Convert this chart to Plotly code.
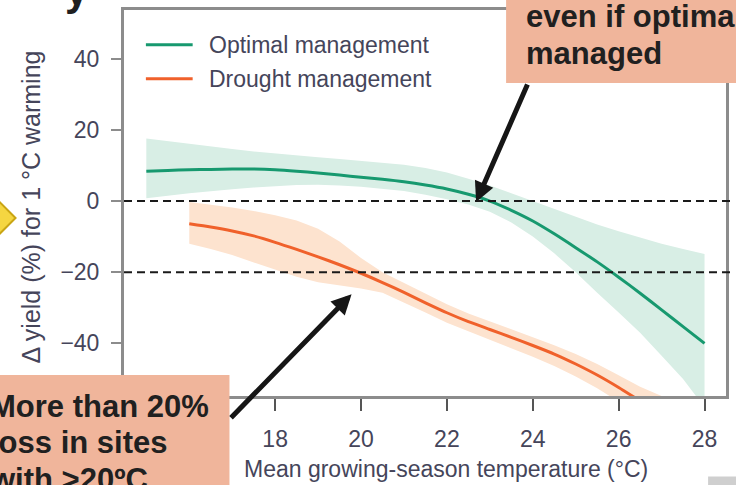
import plotly.graph_objects as go

# ---------------- data ----------------
opt_temp = [15.0, 15.5, 16.0, 16.5, 17.0, 17.5, 18.0, 18.5, 19.0, 19.5, 20.0, 20.5, 21.0,
            21.5, 22.0, 22.5, 23.0, 23.5, 24.0, 24.5, 25.0, 25.5, 26.0, 26.5, 27.0, 27.5, 28.0]
opt_mean = [8.4, 8.6, 8.8, 8.9, 9.0, 9.0, 8.8, 8.4, 7.9, 7.3, 6.7, 6.1, 5.4,
            4.5, 3.4, 1.9, 0.0, -2.6, -5.6, -9.2, -13.1, -17.1, -21.4, -25.9, -30.6, -35.3, -40.0]
opt_upper = [17.6, 16.8, 16.0, 15.3, 14.6, 13.9, 13.3, 12.8, 12.3, 11.8, 11.3, 10.8, 10.2,
             9.3, 8.0, 6.3, 4.4, 2.2, 0.0, -2.3, -4.5, -6.6, -8.5, -10.3, -12.0, -13.5, -14.9]
opt_lower = [0.8, 1.5, 2.2, 2.8, 3.3, 3.8, 4.2, 4.5, 4.6, 4.4, 4.0, 3.5, 2.8,
             1.8, 0.5, -1.0, -3.0, -6.0, -10.0, -14.7, -20.0, -25.8, -31.3, -37.0, -43.5, -50.0, -58.0]

dro_temp = [16.0, 16.5, 17.0, 17.5, 18.0, 18.5, 19.0, 19.5, 20.0, 20.5, 21.0, 21.5,
            22.0, 22.5, 23.0, 23.5, 24.0, 24.5, 25.0, 25.5, 26.0, 26.5, 27.0, 27.5]
dro_mean = [-6.4, -7.3, -8.4, -9.8, -11.6, -13.6, -15.7, -17.9, -20.3, -22.9, -25.7, -28.6,
            -31.4, -33.9, -36.1, -38.3, -40.6, -43.0, -45.8, -48.9, -52.4, -56.2]
dro_upper = [-0.3, -1.0, -1.8, -2.8, -4.0, -5.5, -7.8, -11.4, -16.0, -20.0, -23.0, -26.0,
             -29.0, -31.6, -33.8, -36.0, -38.2, -40.5, -43.0, -45.8, -49.0, -52.2, -54.8, -57.0]
dro_lower = [-12.0, -13.5, -15.2, -17.1, -19.3, -21.3, -22.8, -23.8, -24.6, -25.8, -28.5, -31.3,
             -34.2, -36.7, -39.0, -41.4, -43.8, -46.4, -49.3, -52.6, -56.4, -60.0, -62.0, -64.0]

ref_levels = [0, -20]
series_names = ["Optimal management", "Drought management"]
x_ticks = [16, 18, 20, 22, 24, 26, 28]
y_ticks = [-40, -20, 0, 20, 40]

# ---------------- style ----------------
GREEN = "#17996f"
ORANGE = "#f0612b"
GREEN_BAND = "#d8eee5"
ORANGE_BAND = "#fde3cf"
BOX = "#f0b59b"
FONT = "Liberation Sans"
TXT = "#45455a"

W, H = 736, 485
L, R, T, B = 124, 7, 8, 89
PW, PH = W - L - R, H - T - B


def px(x):
    return (x - L) / PW


def py(y):
    return (H - B - y) / PH


fig = go.Figure()

fig.add_trace(go.Scatter(x=opt_temp + opt_temp[::-1], y=opt_upper + opt_lower[::-1],
                         fill="toself", fillcolor=GREEN_BAND, line=dict(width=0),
                         mode="lines", hoverinfo="skip", showlegend=False))
fig.add_trace(go.Scatter(x=dro_temp + dro_temp[::-1], y=dro_upper + dro_lower[::-1],
                         fill="toself", fillcolor=ORANGE_BAND, line=dict(width=0),
                         mode="lines", hoverinfo="skip", showlegend=False))
fig.add_trace(go.Scatter(x=opt_temp, y=opt_mean, mode="lines", name=series_names[0],
                         line=dict(color=GREEN, width=3, shape="spline", smoothing=0.6),
                         showlegend=False))
fig.add_trace(go.Scatter(x=dro_temp[:len(dro_mean)], y=dro_mean, mode="lines",
                         name=series_names[1],
                         line=dict(color=ORANGE, width=3, shape="spline", smoothing=0.6),
                         showlegend=False))

shapes = []
for v in ref_levels:
    shapes.append(dict(type="line", xref="paper", yref="y", x0=0, x1=px(737), y0=v, y1=v,
                       line=dict(color="#1a1a1a", width=2, dash="8px,5px"), layer="above"))

# manual legend
for i, (nm, col) in enumerate(zip(series_names, [GREEN, ORANGE])):
    yy = 43 + 34 * i
    shapes.append(dict(type="line", xref="paper", yref="paper", x0=px(146), x1=px(193),
                       y0=py(yy), y1=py(yy), line=dict(color=col, width=3)))

# slide boxes
shapes.append(dict(type="rect", xref="paper", yref="paper", x0=px(508), x1=px(745),
                   y0=py(81.5), y1=py(-10), fillcolor=BOX, line=dict(width=0), layer="above"))
shapes.append(dict(type="rect", xref="paper", yref="paper", x0=px(-10), x1=px(230),
                   y0=py(495), y1=py(375), fillcolor=BOX, line=dict(width=0), layer="above"))
# yellow diamond at left edge
d = [(15, 217), (-5, 197), (-25, 217), (-5, 237)]
path = "M " + " L ".join(f"{px(a):.5f},{py(b):.5f}" for a, b in d) + " Z"
shapes.append(dict(type="path", xref="paper", yref="paper", path=path,
                   fillcolor="#f5d641", line=dict(color="#c9a514", width=2), layer="above"))
# small grey element bottom right
shapes.append(dict(type="rect", xref="paper", yref="paper", x0=px(711), x1=px(745),
                   y0=py(495), y1=py(477), fillcolor="#cfcfcf", line=dict(width=0), layer="above"))

ann = []
for i, nm in enumerate(series_names):
    ann.append(dict(xref="paper", yref="paper", x=px(207), y=py(43 + 34 * i), text=nm,
                    xanchor="left", yanchor="middle", showarrow=False,
                    font=dict(family=FONT, size=23, color=TXT)))

ann.append(dict(xref="paper", yref="paper", x=px(31), y=py(206),
                text="Δ yield (%) for 1 °C warming", textangle=-90, showarrow=False,
                xanchor="center", yanchor="middle",
                font=dict(family=FONT, size=25, color=TXT)))
ann.append(dict(xref="paper", yref="paper", x=px(448), y=py(469),
                text="Mean growing-season temperature (°C)", showarrow=False,
                xanchor="center", yanchor="middle",
                font=dict(family=FONT, size=23, color=TXT)))

BF = dict(family=FONT, size=31, color="#202020")
for txt, xx, yy in [("even if optimally", 526, 15), ("managed", 526, 51.5),
                    ("More than 20%", -13, 407), ("loss in sites", -13, 443),
                    ("with >20ºC", -13, 480)]:
    ann.append(dict(xref="paper", yref="paper", x=px(xx), y=py(yy), text=f"<b>{txt}</b>",
                    xanchor="left", yanchor="middle", showarrow=False, font=BF))

# title fragment at top
ann.append(dict(xref="paper", yref="paper", x=px(77), y=py(-12), text="<b>y</b>",
                xanchor="center", yanchor="middle", showarrow=False,
                font=dict(family=FONT, size=42, color="#202020")))

# arrows
ann.append(dict(x=22.68, y=-0.3, xref="x", yref="y", text="", showarrow=True,
                ax=52, ay=-119, arrowhead=2, arrowsize=0.8, arrowwidth=5, arrowcolor="#161616"))
ann.append(dict(x=19.78, y=-26.2, xref="x", yref="y", text="", showarrow=True,
                ax=-122, ay=125, arrowhead=2, arrowsize=0.8, arrowwidth=5, arrowcolor="#161616"))

fig.update_layout(
    width=W, height=H, margin=dict(l=L, r=R, t=T, b=B),
    paper_bgcolor="white", plot_bgcolor="white",
    shapes=shapes, annotations=ann, showlegend=False,
    xaxis=dict(range=[14.48, 28.5], tickvals=x_ticks, showgrid=False, zeroline=False,
               showline=True, mirror=True, linecolor="#8c8c8c", linewidth=3,
               ticks="outside", ticklen=12, tickwidth=2, tickcolor="#555555",
               ticklabelstandoff=8, tickfont=dict(family=FONT, size=23, color=TXT)),
    yaxis=dict(range=[-54.8, 53.7], tickvals=y_ticks, showgrid=False, zeroline=False,
               showline=True, mirror=True, linecolor="#8c8c8c", linewidth=3,
               ticks="outside", ticklen=10, tickwidth=2, tickcolor="#8c8c8c",
               ticklabelstandoff=7, tickfont=dict(family=FONT, size=23, color=TXT)),
)

fig.write_html("out.html",
               config={"displayModeBar": False},
               post_script="document.body.style.margin='0';"
                           "document.body.style.overflow='hidden';")
